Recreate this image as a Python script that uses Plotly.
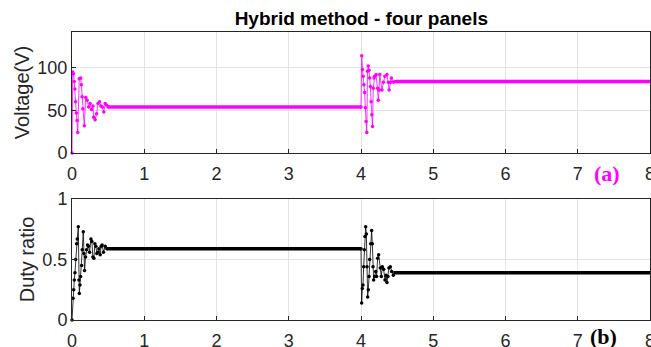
import plotly.graph_objects as go
from plotly.subplots import make_subplots

# ---- data ----
# Voltage transient after start (t in s, V)
v_t1 = [0.0, 0.01, 0.02, 0.03, 0.04, 0.05, 0.06, 0.07, 0.08, 0.10, 0.12, 0.13, 0.14, 0.15, 0.17,
        0.19, 0.21, 0.23, 0.25, 0.27, 0.29, 0.30, 0.32, 0.34, 0.36, 0.38, 0.40, 0.42, 0.44, 0.46, 0.48, 0.50]
v_v1 = [0, 95, 93, 84, 75, 60, 47, 38, 24, 87, 88, 80, 66, 52, 32,
        65, 62, 54, 58, 51, 55, 42, 39, 46, 58, 60, 55, 54, 48, 58, 56, 54]
# Voltage transient after change at t=4
v_t2 = [4.00, 4.01, 4.02, 4.03, 4.04, 4.05, 4.06, 4.07, 4.08, 4.09, 4.10, 4.11, 4.12, 4.13, 4.14, 4.15,
        4.16, 4.17, 4.18, 4.19, 4.21, 4.23, 4.24, 4.25, 4.26, 4.29, 4.31, 4.33, 4.36, 4.38, 4.39, 4.41,
        4.42, 4.45, 4.47, 4.49]
v_v2 = [54, 114, 98, 90, 80, 71, 53, 37, 24, 96, 102, 97, 88, 78, 60, 45,
        31, 76, 88, 90, 92, 76, 62, 74, 92, 74, 83, 90, 92, 83, 74, 83,
        88, 83, 84, 84]
v_steady = [54, 84]

# Duty ratio transients
d_t1 = [0.0, 0.014, 0.023, 0.032, 0.041, 0.05, 0.064, 0.073, 0.087, 0.096, 0.101, 0.110, 0.119,
        0.133, 0.142, 0.156, 0.165, 0.174, 0.188, 0.202, 0.216, 0.229, 0.243, 0.262, 0.275, 0.289,
        0.303, 0.317, 0.330, 0.344, 0.358, 0.372, 0.390, 0.404, 0.417, 0.436, 0.459, 0.482]
d_v1 = [0.0, 0.18, 0.25, 0.33, 0.39, 0.50, 0.63, 0.67, 0.77, 0.33, 0.22, 0.29, 0.36,
        0.45, 0.58, 0.73, 0.55, 0.41, 0.52, 0.58, 0.62, 0.61, 0.56, 0.67, 0.65, 0.52,
        0.51, 0.63, 0.61, 0.55, 0.56, 0.59, 0.54, 0.61, 0.62, 0.56, 0.61, 0.59]
d_t2 = [4.00, 4.009, 4.018, 4.028, 4.037, 4.046, 4.055, 4.065, 4.074, 4.083, 4.092, 4.101, 4.111,
        4.120, 4.134, 4.147, 4.157, 4.166, 4.175, 4.189, 4.203, 4.216, 4.230, 4.244, 4.267, 4.281,
        4.295, 4.313, 4.332, 4.346, 4.359, 4.373, 4.387, 4.406, 4.424, 4.447]
d_v2 = [0.59, 0.14, 0.26, 0.29, 0.44, 0.58, 0.69, 0.77, 0.71, 0.44, 0.19, 0.25, 0.36,
        0.50, 0.63, 0.74, 0.63, 0.44, 0.33, 0.36, 0.40, 0.36, 0.51, 0.54, 0.43, 0.36,
        0.44, 0.42, 0.33, 0.37, 0.31, 0.36, 0.43, 0.44, 0.40, 0.37]
d_steady = [0.59, 0.39]

t_end = 8.0

x_ticks = [0, 1, 2, 3, 4, 5, 6, 7, 8]
v_ticks = [0, 50, 100]
d_ticks = [0, 0.5, 1]

MAG = "#FF00FF"
BLK = "#000000"
SANS = "Arial"
SERIF = "Times New Roman"

fig = make_subplots(rows=2, cols=1, vertical_spacing=0.16)

def add_series(row, color, t1, y1, t2, y2, steady):
    # steady segments (dense markers appear as a thick line)
    fig.add_trace(go.Scatter(x=[t1[-1], t2[0]], y=[steady[0], steady[0]], mode="lines",
                             line=dict(color=color, width=3.5), showlegend=False,
                             hoverinfo="skip"), row=row, col=1)
    fig.add_trace(go.Scatter(x=[t2[-1], t_end], y=[steady[1], steady[1]], mode="lines",
                             line=dict(color=color, width=3.5), showlegend=False,
                             hoverinfo="skip"), row=row, col=1)
    for tt, yy in ((t1, y1), (t2, y2)):
        fig.add_trace(go.Scatter(x=tt, y=yy, mode="lines+markers",
                                 line=dict(color=color, width=0.8),
                                 marker=dict(color=color, size=3.5),
                                 cliponaxis=False, showlegend=False), row=row, col=1)

add_series(1, MAG, v_t1, v_v1, v_t2, v_v2, v_steady)
add_series(2, BLK, d_t1, d_v1, d_t2, d_v2, d_steady)

axis_common = dict(showline=True, linecolor="#262626", linewidth=1, mirror=True,
                   ticks="inside", ticklen=4, tickcolor="#262626",
                   showgrid=True, gridcolor="#E3E3E3", gridwidth=1, zeroline=False,
                   ticklabeloverflow="allow", automargin=False,
                   tickfont=dict(family=SANS, size=18, color="#262626"))

fig.update_xaxes(range=[0, 8], tickvals=x_ticks, ticklabelstandoff=4, **axis_common)
fig.update_yaxes(**axis_common)
fig.update_yaxes(range=[0, 142], tickvals=v_ticks, row=1, col=1,
                 title=dict(text="Voltage(V)", standoff=2,
                            font=dict(family=SANS, size=20, color="#262626")))
fig.update_yaxes(range=[0, 1], tickvals=d_ticks, row=2, col=1,
                 title=dict(text="Duty ratio", standoff=2,
                            font=dict(family=SANS, size=20, color="#262626")))

fig.update_layout(
    width=651, height=347,
    margin=dict(l=72, r=1, t=32, b=27, autoexpand=False),
    paper_bgcolor="white", plot_bgcolor="white",
    title=dict(text="<b>Hybrid method - four panels</b>", x=0.555, xanchor="center",
               y=0.947, yanchor="middle", automargin=False,
               font=dict(family=SANS, size=19, color="#000000")),
)
fig.update_layout(yaxis=dict(domain=[0.58, 1.0]), yaxis2=dict(domain=[0.0, 0.42]))

fig.add_annotation(text="<b>(a)</b>", xref="paper", yref="paper", x=0.926, y=0.507,
                   xanchor="center", yanchor="middle", showarrow=False,
                   font=dict(family=SERIF, size=22, color=MAG))
fig.add_annotation(text="<b>(b)</b>", xref="paper", yref="paper", x=0.92, y=-0.059,
                   xanchor="center", yanchor="middle", showarrow=False,
                   font=dict(family=SERIF, size=22, color=BLK))

fig.write_html("out.html")
